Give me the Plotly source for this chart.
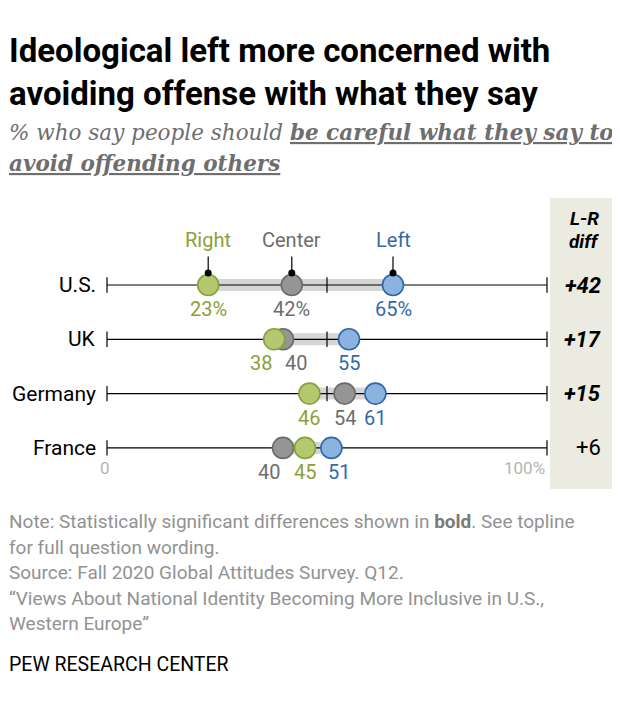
import plotly.graph_objects as go

# ---- data ----
countries = ["U.S.", "UK", "Germany", "France"]
right_vals = [23, 38, 46, 45]
center_vals = [42, 40, 54, 40]
left_vals = [65, 55, 61, 51]
diff_labels = ["+42", "+17", "+15", "+6"]
diff_significant = [True, True, True, False]
series_names = ["Right", "Center", "Left"]
axis_ticks = [0, 50, 100]
axis_tick_labels = ["0", "100%"]

title_lines = ["Ideological left more concerned with", "avoiding offense with what they say"]
note_lines = [
    "Note: Statistically significant differences shown in "
    "<b><span style='color:#7a7a7a'>bold</span></b>. See topline",
    "for full question wording.",
    "Source: Fall 2020 Global Attitudes Survey. Q12.",
    "\u201cViews About National Identity Becoming More Inclusive in U.S.,",
    "Western Europe\u201d",
]

OFF = 8                      # page body margin
W, H = 620 - OFF, 712 - OFF
X0_PX, X_SCALE = 107 - OFF, 4.4       # figure pixel of 0%, pixels per percent
ROW0_PX, ROW_PX = 285 - OFF, 54.3     # figure pixel of first row, row spacing

SANS = "Roboto, Liberation Sans, sans-serif"
SERIF = "DejaVu Serif, Georgia, serif"

GREEN_FILL, GREEN_LINE, GREEN_TXT = "#b4c96f", "#8aa03c", "#8ba03a"
GRAY_FILL, GRAY_LINE, GRAY_TXT = "#959595", "#6b6b6b", "#6d6d6d"
BLUE_FILL, BLUE_LINE, BLUE_TXT = "#8cb3e0", "#2e67aa", "#3569a8"
BAND = "#d6d6d6"


def px(xp):   # reference-picture x pixel -> paper
    return (xp - OFF) / W


def py(yp):   # reference-picture y pixel -> paper
    return 1 - (yp - OFF) / H


rows = list(range(len(countries)))
fig = go.Figure()

# right panel background
fig.add_shape(type="rect", xref="paper", yref="paper",
              x0=px(550), x1=1.0, y0=py(489), y1=py(198),
              fillcolor="#ecebe1", line_width=0, layer="below")

# gray bands (min to max)
for i in rows:
    vals = [right_vals[i], center_vals[i], left_vals[i]]
    fig.add_trace(go.Scatter(x=[min(vals), max(vals)], y=[i, i], mode="lines",
                             line=dict(color=BAND, width=12), hoverinfo="skip"))

# axis lines
for i in rows:
    fig.add_trace(go.Scatter(x=[axis_ticks[0], axis_ticks[-1]], y=[i, i], mode="lines",
                             line=dict(color="black", width=1.2), hoverinfo="skip"))
    fig.add_trace(go.Scatter(x=axis_ticks, y=[i] * len(axis_ticks), mode="markers",
                             marker=dict(symbol="line-ns", size=11,
                                         line=dict(color="black", width=1.2)),
                             hoverinfo="skip"))

# dots: center, right, left order for overlaps
series = [
    ("Center", center_vals, GRAY_FILL, GRAY_LINE),
    ("Right", right_vals, GREEN_FILL, GREEN_LINE),
    ("Left", left_vals, BLUE_FILL, BLUE_LINE),
]
for name, vals, fill, line in series:
    fig.add_trace(go.Scatter(x=vals, y=rows, mode="markers", name=name,
                             marker=dict(size=21, color=fill,
                                         line=dict(color=line, width=1.6))))

# value labels
label_shift = {  # (row, series) -> xshift in px to avoid overlaps
    (1, "Right"): -13, (1, "Center"): 13,
    (3, "Center"): -14, (3, "Left"): 8,
}
txt_colors = {"Right": GREEN_TXT, "Center": GRAY_TXT, "Left": BLUE_TXT}
for name, vals, _, _ in series:
    for i in rows:
        t = f"{vals[i]}%" if i == 0 else f"{vals[i]}"
        fig.add_annotation(x=vals[i], y=i, xref="x", yref="y", text=t,
                           showarrow=False, yshift=-24,
                           xshift=label_shift.get((i, name), 0),
                           font=dict(family=SANS, size=20, color=txt_colors[name]))

# series name labels with stems (first row)
first = {"Right": right_vals[0], "Center": center_vals[0], "Left": left_vals[0]}
for name in series_names:
    xv = first[name]
    fig.add_annotation(x=xv, y=0, xref="x", yref="y", text="", showarrow=True,
                       arrowhead=0, arrowwidth=1.2, arrowcolor="black",
                       ax=0, ay=-30, standoff=11)
    fig.add_shape(type="circle", xref="x", yref="y", xsizemode="pixel",
                  ysizemode="pixel", xanchor=xv, yanchor=0,
                  x0=-3.5, x1=3.5, y0=8.5, y1=15.5,
                  fillcolor="black", line_width=0)
    fig.add_annotation(x=xv, y=0, xref="x", yref="y", text=name, showarrow=False,
                       yshift=45, font=dict(family=SANS, size=20, color=txt_colors[name]))

# country labels
for i, c in enumerate(countries):
    fig.add_annotation(x=0, y=i, xref="x", yref="y", text=c, showarrow=False,
                       xanchor="right", xshift=-9,
                       font=dict(family=SANS, size=21, color="black"))

# diff column header
for txt, yp in (("L-R", 218), ("diff", 241)):
    fig.add_annotation(x=px(584), y=py(yp), xref="paper", yref="paper",
                       xanchor="center", yanchor="middle",
                       text=f"<b><i>{txt}</i></b>", showarrow=False,
                       font=dict(family=SANS, size=19, color="black"))
for i, d in enumerate(diff_labels):
    t = f"<b><i>{d}</i></b>" if diff_significant[i] else d
    fig.add_annotation(x=px(603), y=i, xref="paper", yref="y", text=t,
                       showarrow=False, xanchor="right", yanchor="middle",
                       font=dict(family=SANS, size=22, color="black"))

# axis tick labels under last row
last = rows[-1]
fig.add_annotation(x=axis_ticks[0], y=last, xref="x", yref="y", text=axis_tick_labels[0],
                   showarrow=False, yshift=-20, xshift=-2,
                   font=dict(family=SANS, size=17, color="#b5b5b5"))
fig.add_annotation(x=axis_ticks[-1], y=last, xref="x", yref="y", text=axis_tick_labels[1],
                   showarrow=False, yshift=-20, xanchor="right",
                   font=dict(family=SANS, size=17, color="#b5b5b5"))


def left_text(text, yp, size, color, family=SANS):
    fig.add_annotation(x=0, y=py(yp), xref="paper", yref="paper", xanchor="left",
                       yanchor="middle", align="left", showarrow=False, borderpad=0,
                       text=text, font=dict(family=family, size=size, color=color))


# title & subtitle
for txt, yp in zip(title_lines, (51, 93)):
    left_text(f"<b>{txt}</b>", yp, 33, "black")
left_text("<i>% who say people should </i><b><i><u>be careful what they say to</u></i></b>",
          133, 21.5, "#6e6e6e", SERIF)
left_text("<b><i><u>avoid offending others</u></i></b>", 164, 21.5, "#6e6e6e", SERIF)

# notes
for txt, yp in zip(note_lines, (521, 547, 572, 598, 623)):
    left_text(txt, yp, 19, "#929292")
left_text("PEW RESEARCH CENTER", 664, 19.5, "black")

fig.update_layout(
    width=W, height=H, margin=dict(l=0, r=0, t=0, b=0),
    plot_bgcolor="white", paper_bgcolor="white",
    xaxis=dict(range=[-X0_PX / X_SCALE, (W - X0_PX) / X_SCALE], visible=False,
               fixedrange=True),
    yaxis=dict(range=[(H - ROW0_PX) / ROW_PX, -ROW0_PX / ROW_PX], visible=False,
               fixedrange=True),
    showlegend=False,
)
fig.write_html("out.html")
